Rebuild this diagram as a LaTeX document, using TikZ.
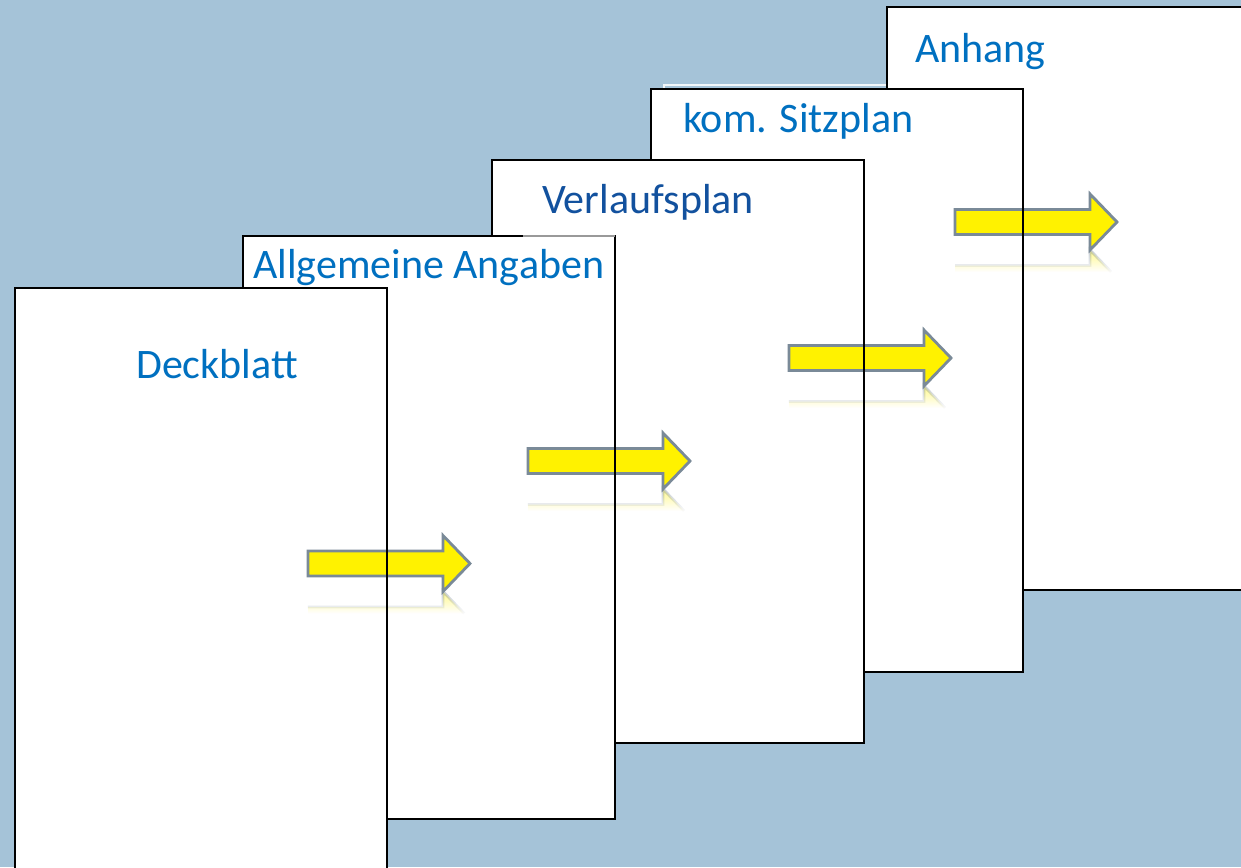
\documentclass[tikz,border=0pt]{standalone}
\usepackage{fontspec}
\setmainfont{Carlito}
\usetikzlibrary{fadings}
\definecolor{bgblue}{HTML}{A5C3D8}
\definecolor{titleblue}{HTML}{0070C0}
\definecolor{titledark}{HTML}{12519E}
\definecolor{arrowedge}{HTML}{7A8A98}
\tikzfading[name=reflfade, top color=transparent!55, middle color=transparent!85, bottom color=transparent!100]

\begin{document}
\begin{tikzpicture}[x=1pt,y=-1pt,
  page/.style={minimum width=372pt, minimum height=583pt, inner sep=0pt, outer sep=0pt, fill=white, anchor=north west},
  pageedge/.style={draw=black, line width=2.6pt},
  title/.style={anchor=base west, inner sep=0pt, font=\fontsize{42}{50}\selectfont, text=titleblue},
  arrowbody/.style={fill=yellow, draw=arrowedge, line width=2.8pt, line join=miter},
  reflfill/.style={fill=yellow, path fading=reflfade},
  refledge/.style={draw=arrowedge, line width=2.8pt, path fading=reflfade},
  blockarrow/.pic={
    % faded mirror image just below the arrow (upper part only)
    \path[reflfill] (0,43.5) -- (135,43.5) -- (135,28) -- (156.2,50) -- (0,50) -- cycle;
    \path[refledge] (0,43.5) -- (135,43.5) -- (135,28) -- (156.2,50);
    % the arrow itself
    \path[arrowbody] (0,-12.5) -- (135,-12.5) -- (135,-28) -- (162,0) -- (135,28) -- (135,12.5) -- (0,12.5) -- cycle;
  }]
\useasboundingbox (0,0) rectangle (1241,867);
\clip (0,0) rectangle (1241,867);
\fill[bgblue] (0,0) rectangle (1241,867);

% thin light outline left over above the fourth sheet
\draw[white!85!bgblue, line width=1.2pt] (664,89) -- (664,85) -- (887,85);

% sheet 5
\node[page] (p5) at (887,7) {};
\draw[pageedge] (p5.north west) rectangle (p5.south east);
\node[title] (t5) at (915,63) {Anhang};

% sheet 4
\node[page] (p4) at (651,89) {};
\pic at (955,222) {blockarrow};
\draw[pageedge] (p4.north west) rectangle (p4.south east);
\node[title] (t4) at (683,132) {kom. Sitzplan};

% sheet 3
\node[page] (p3) at (492,160) {};
\pic at (789,358) {blockarrow};
\draw[pageedge] (p3.north west) rectangle (p3.south east);
\node[title, text=titledark] (t3) at (542,213) {Verlaufsplan};

% sheet 2
\node[page] (p2) at (243,236) {};
\pic at (528,461) {blockarrow};
\draw[pageedge] (p2.north west) rectangle (p2.south east);
\draw[gray!80, line width=2.6pt] (523,236) -- (p2.north east);
\node[title] (t2) at (253,278) {Allgemeine Angaben};

% sheet 1
\node[page] (p1) at (15,288) {};
\pic at (308,563.5) {blockarrow};
\draw[pageedge] (p1.north west) rectangle (p1.south east);
\node[title] (t1) at (136,378) {Deckblatt};
\end{tikzpicture}
\end{document}
